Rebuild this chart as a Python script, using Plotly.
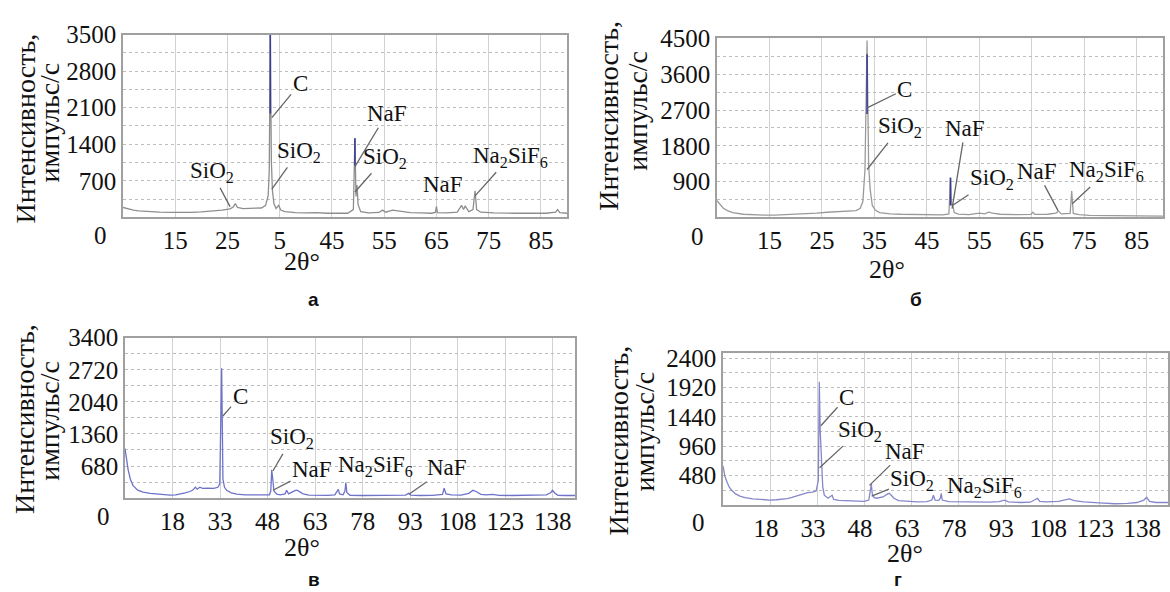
import plotly.graph_objects as go

W, H = 1170, 592
SERIF = "Liberation Serif, Tinos, DejaVu Serif, Times New Roman, serif"
SANS = "Liberation Sans, Arial, sans-serif"

# ---------------- data ----------------
# panel а
theta_a = [5, 6, 7, 8, 10, 12, 14, 16, 18, 20, 22, 24, 25.5, 26.1, 26.5, 26.9, 28, 30, 31.5,
           32.3, 32.8, 33.0, 33.2, 33.4, 33.6, 33.9, 34.3, 34.8, 35.2, 36, 38, 40, 42, 44, 46,
           48, 49.1, 49.4, 49.6, 49.8, 50.0, 50.2, 50.5, 52, 54, 54.7, 55.3, 56.6, 57.5, 58.5,
           60, 62, 64, 64.8, 65.0, 65.2, 67, 69, 69.8, 70.2, 70.5, 71.2, 72.0, 72.4, 72.7,
           73.5, 76, 80, 84, 86, 87.8, 88.2, 88.6, 90]
int_a = [190, 160, 140, 125, 110, 100, 95, 90, 95, 105, 120, 140, 165, 200, 265, 190, 170, 175, 180,
         230, 420, 900, 3500, 1100, 520, 260, 170, 230, 140, 110, 90, 85, 90, 80, 85,
         80, 150, 1515, 400, 620, 250, 190, 110, 85, 95, 140, 100, 140, 130, 115,
         90, 85, 80, 95, 210, 90, 85, 100, 230, 150, 220, 110, 150, 510, 150,
         100, 85, 80, 85, 80, 100, 150, 90, 80]
top_theta_a = [33.2, 33.2, None, 49.4, 49.4]
top_int_a = [1990, 3500, None, 1000, 1515]
yticks_a = [700, 1400, 2100, 2800, 3500]
xtickvals_a = [15, 25, 35, 45, 55, 65, 75, 85]
xticktext_a = ["15", "25", "5", "45", "55", "65", "75", "85"]
# label, text 2θ, text I, tip 2θ, tip I (None = no leader)
labels_a = [("C", 38.9, 2565, 33.5, 1909),
            ("SiO<sub>2</sub>", 22.0, 861, 25.5, 206),
            ("SiO<sub>2</sub>", 38.6, 1254, 33.5, 543),
            ("NaF", 55.5, 1984, 49.4, 973),
            ("SiO<sub>2</sub>", 55.2, 1142, 49.4, 487),
            ("NaF", 66.3, 636, None, None),
            ("Na<sub>2</sub>SiF<sub>6</sub>", 79.1, 1161, 72.4, 412)]

# panel б
theta_b = [5, 5.5, 6.2, 7, 8, 10, 12, 14, 16, 18, 20, 22, 24, 26, 28, 30, 31.5, 32.3, 32.8, 33.2,
           33.6, 33.9, 34.2, 34.6, 35.2, 36, 38, 40, 42, 44, 46, 48, 49.2, 49.5, 49.7, 49.9, 50.2,
           51, 53, 54.2, 55, 56, 56.8, 57.5, 59, 62, 64.8, 65.2, 65.6, 68, 69.6, 70.1, 70.6,
           72.3, 72.6, 72.9, 74, 76, 80, 84, 88, 90]
int_b = [420, 330, 230, 170, 120, 80, 60, 55, 60, 70, 80, 95, 110, 130, 145, 160, 170, 230, 400, 1200,
         4450, 1300, 700, 300, 180, 120, 90, 80, 75, 70, 70, 65, 90, 1000, 300, 350, 120,
         80, 70, 100, 110, 90, 130, 110, 80, 70, 75, 130, 75, 80, 110, 160, 90,
         100, 660, 100, 70, 50, 45, 40, 35, 30]
top_theta_b = [33.6, 33.6, None, 49.5, 49.5]
top_int_b = [2600, 4100, None, 300, 1000]
yticks_b = [900, 1800, 2700, 3600, 4500]
xtickvals_b = [15, 25, 35, 45, 55, 65, 75, 85]
xticktext_b = ["15", "25", "35", "45", "55", "65", "75", "85"]
labels_b = [("C", 40.8, 3221, 33.6, 2754),
            ("SiO<sub>2</sub>", 39.9, 2262, 33.6, 1205),
            ("NaF", 52.3, 2238, 49.8, 221),
            ("SiO<sub>2</sub>", 57.4, 959, 49.8, 295),
            ("NaF", 66.0, 1156, 70.0, 172),
            ("Na<sub>2</sub>SiF<sub>6</sub>", 79.3, 1156, 72.7, 344)]

# panel в
theta_c = [3, 3.5, 4, 4.7, 5.5, 7, 8.7, 11, 13, 15, 17.2, 19, 20.3, 22, 23.5, 24.4, 25.2, 25.8, 26.6,
           27.5, 29, 31, 32.3, 32.9, 33.5, 33.9, 34.4, 35.1, 36.5, 38.3, 41, 44, 47, 48.6, 49.0,
           49.3, 49.6, 50.0, 50.9, 52, 53.5, 54, 54.6, 55.6, 56.6, 57.3, 58, 59.2, 61, 64, 67,
           69.2, 70.0, 70.3, 70.7, 71.8, 72.4, 72.7, 73.0, 74, 78, 83, 88, 91.5, 92.5, 93.2, 96,
           100, 103.2, 103.7, 104.3, 106, 109, 111.5, 112.8, 113.8, 115.3, 117, 119, 121, 125,
           130, 133, 136, 137.4, 137.9, 138.6, 139.6, 142, 145]
int_c = [1050, 800, 600, 400, 270, 170, 125, 100, 85, 75, 65, 70, 85, 110, 140, 170, 230, 190, 230,
         205, 210, 205, 230, 300, 2750, 400, 230, 165, 110, 85, 70, 65, 65, 70, 150,
         600, 420, 150, 85, 70, 90, 165, 90, 130, 160, 170, 140, 90, 65, 60, 60,
         70, 150, 185, 90, 70, 150, 330, 120, 60, 55, 55, 60, 65, 100, 65, 55,
         60, 80, 210, 90, 70, 65, 100, 165, 140, 80, 70, 80, 60, 55,
         60, 65, 70, 120, 165, 110, 60, 55, 55]
yticks_c = [680, 1360, 2040, 2720, 3400]
xtickvals_c = [18, 33, 48, 63, 78, 93, 108, 123, 138]
xticktext_c = ["18", "33", "48", "63", "78", "93", "108", "123", "138"]
labels_c = [("C", 39.3, 2156, 33.9, 1741),
            ("SiO<sub>2</sub>", 55.7, 1265, 49.7, 580),
            ("NaF", 62.0, 601, 49.7, 166),
            ("Na<sub>2</sub>SiF<sub>6</sub>", 81.9, 684, None, None),
            ("NaF", 104.6, 643, 92.6, 83)]

# panel г
theta_d = [3, 3.6, 4.3, 5, 5.8, 7, 8.4, 10, 12.5, 15, 17.9, 20, 22, 23.5, 25, 26.4, 28.3, 30, 31.5,
           32.7, 33.4, 33.7, 34.0, 34.3, 34.8, 35.3, 36.5, 37.8, 38.3, 40, 43, 46, 48, 49.5, 50.3,
           50.6, 51.2, 52, 54, 55.5, 56, 56.8, 57.5, 59, 62, 65, 68, 69.6, 70.1, 70.6, 71.8, 72.3,
           72.6, 72.9, 75, 79, 84, 88, 91, 92.8, 94, 98, 101, 103.3, 104, 106, 110, 113.4, 115,
           118, 123, 128, 132, 135, 137.2, 138.1, 139, 141, 144.9]
int_d = [640, 470, 370, 290, 240, 180, 145, 120, 100, 90, 80, 85, 95, 105, 125, 145, 185, 200, 210,
         230, 400, 2015, 1200, 740, 300, 160, 110, 160, 90, 75, 65, 65, 60, 80, 340,
         180, 120, 110, 130, 180, 190, 150, 110, 70, 55, 50, 55, 80, 160, 80, 75, 110,
         190, 80, 55, 50, 45, 45, 55, 80, 50, 40, 45, 110, 60, 50, 60, 100, 70,
         50, 35, 20, 25, 40, 80, 125, 60, 40, 40]
yticks_d = [480, 960, 1440, 1920, 2400]
xtickvals_d = [18, 33, 48, 63, 78, 93, 108, 123, 138]
xticktext_d = ["18", "33", "48", "63", "78", "93", "108", "123", "138"]
labels_d = [("C", 42.4, 1760, 34.2, 1296),
            ("SiO<sub>2</sub>", 46.6, 1216, 33.8, 608),
            ("NaF", 60.9, 880, 49.7, 320),
            ("SiO<sub>2</sub>", 63.4, 416, 50.4, 144),
            ("Na<sub>2</sub>SiF<sub>6</sub>", 86.3, 288, None, None)]

corner_label = "0"
x_title = "2θ°"
y_title_1 = "Интенсивность,"
y_title_2 = "импульс/с"
panel_letters = ["а", "б", "в", "г"]

# ---------------- layout (pixel boxes of each panel) ----------------
panels = [
    dict(box=(123, 22, 567, 209), xr=[5, 90], yr=[0, 3500], theta=theta_a, inten=int_a,
         color="#8e8e8e", top=(top_theta_a, top_int_a), yt=yticks_a, xv=xtickvals_a, xt=xticktext_a,
         labels=labels_a, zero=(100, 227), xtitle=(302, 254), yt1=(25, 118), yt2=(50, 112),
         letter=(313, 293, "middle"), shift=0),
    dict(box=(717, 26, 1163, 209), xr=[5, 90], yr=[0, 4500], theta=theta_b, inten=int_b,
         color="#9a9a9a", top=(top_theta_b, top_int_b), yt=yticks_b, xv=xtickvals_b, xt=xticktext_b,
         labels=labels_b, zero=(697, 229), xtitle=(887, 262), yt1=(609, 105), yt2=(638, 100),
         letter=(916, 293, "middle"), shift=0),
    dict(box=(125, 332, 575, 496), xr=[3, 145], yr=[0, 3400], theta=theta_c, inten=int_c,
         color="#6f72c9", top=None, yt=yticks_c, xv=xtickvals_c, xt=xticktext_c,
         labels=labels_c, zero=(103, 515), xtitle=(302, 546), yt1=(25, 415), yt2=(50, 417),
         letter=(314, 592, "bottom"), shift=0),
    dict(box=(723, 348, 1168, 503), xr=[3, 144.9], yr=[0, 2480], theta=theta_d, inten=int_d,
         color="#8587c9", top=None, yt=yticks_d, xv=xtickvals_d, xt=xticktext_d,
         labels=labels_d, zero=(698, 521), xtitle=(905, 553), yt1=(618, 437), yt2=(645, 428),
         letter=(898, 592, "bottom"), shift=-4),
]

fig = go.Figure()
annotations = []
layout_axes = {}

def px(xp):
    return xp / W

def py(yp):
    return 1 - yp / H

def paper_text(x, y, text, size, family=SERIF, angle=0, yanchor="middle"):
    return dict(x=px(x), y=py(y), xref="paper", yref="paper", text=text, showarrow=False,
                xanchor="center", yanchor=yanchor, textangle=angle,
                font=dict(family=family, size=size, color="#111"))

for i, p in enumerate(panels):
    n = "" if i == 0 else str(i + 1)
    xa, ya = "x" + n, "y" + n
    l, t, r, b = p["box"]
    fig.add_trace(go.Scatter(x=p["theta"], y=p["inten"], mode="lines",
                             line=dict(color=p["color"], width=1.3),
                             xaxis=xa, yaxis=ya, showlegend=False, hoverinfo="skip"))
    if p["top"] is not None:
        fig.add_trace(go.Scatter(x=p["top"][0], y=p["top"][1], mode="lines",
                                 line=dict(color="#3a3c96", width=1.6),
                                 xaxis=xa, yaxis=ya, showlegend=False, hoverinfo="skip",
                                 connectgaps=False))
    step = p["yt"][0] / 2
    gvals = [step * k for k in range(1, 2 * len(p["yt"]) + 1)]
    gtext = [("%d" % v) if int(v) in p["yt"] else "" for v in gvals]
    layout_axes["xaxis" + n] = dict(
        domain=[px(l), px(r)], range=p["xr"], anchor=ya,
        tickmode="array", tickvals=p["xv"], ticktext=p["xt"],
        tickfont=dict(family=SERIF, size=25, color="#111"), ticklabelshift=p["shift"],
        showgrid=True, gridcolor="#d2d2d2", gridwidth=1,
        showline=True, linecolor="#a0a0a0", linewidth=1.5, mirror=True,
        zeroline=False, ticks="", fixedrange=True)
    layout_axes["yaxis" + n] = dict(
        domain=[py(b), py(t)], range=p["yr"], anchor=xa,
        tickmode="array", tickvals=gvals, ticktext=gtext,
        tickfont=dict(family=SERIF, size=25, color="#111"),
        showgrid=True, gridcolor="#bdbdbd", gridwidth=1, griddash="dot",
        showline=True, linecolor="#a0a0a0", linewidth=1.5, mirror=True,
        zeroline=False, ticks="", fixedrange=True)

    for (txt, tx, ty, hx, hy) in p["labels"]:
        if hx is None:
            annotations.append(dict(x=tx, y=ty, xref=xa, yref=ya, text=txt, showarrow=False,
                                    xanchor="center", yanchor="middle",
                                    font=dict(family=SERIF, size=23, color="#111")))
        else:
            annotations.append(dict(x=hx, y=hy, ax=tx, ay=ty, xref=xa, yref=ya,
                                    axref=xa, ayref=ya, text=txt, showarrow=True,
                                    arrowhead=0, arrowwidth=1.3, arrowcolor="#666",
                                    font=dict(family=SERIF, size=23, color="#111")))
    annotations.append(paper_text(p["zero"][0], p["zero"][1], corner_label, 25))
    annotations.append(paper_text(p["xtitle"][0], p["xtitle"][1], x_title, 26))
    annotations.append(paper_text(p["yt1"][0], p["yt1"][1], y_title_1, 28, angle=-90))
    annotations.append(paper_text(p["yt2"][0], p["yt2"][1], y_title_2, 28, angle=-90))
    lx, ly, lanchor = p["letter"]
    annotations.append(paper_text(lx, ly, "<b>%s</b>" % panel_letters[i], 19,
                                  family=SANS, yanchor=lanchor))

fig.update_layout(width=W, height=H, margin=dict(l=0, r=0, t=0, b=0),
                  paper_bgcolor="white", plot_bgcolor="white",
                  font=dict(family=SERIF),
                  annotations=annotations, showlegend=False, **layout_axes)

fig.write_html("out.html", config={"displayModeBar": False},
               post_script="document.body.style.margin='0px';document.body.style.overflow='hidden';")
